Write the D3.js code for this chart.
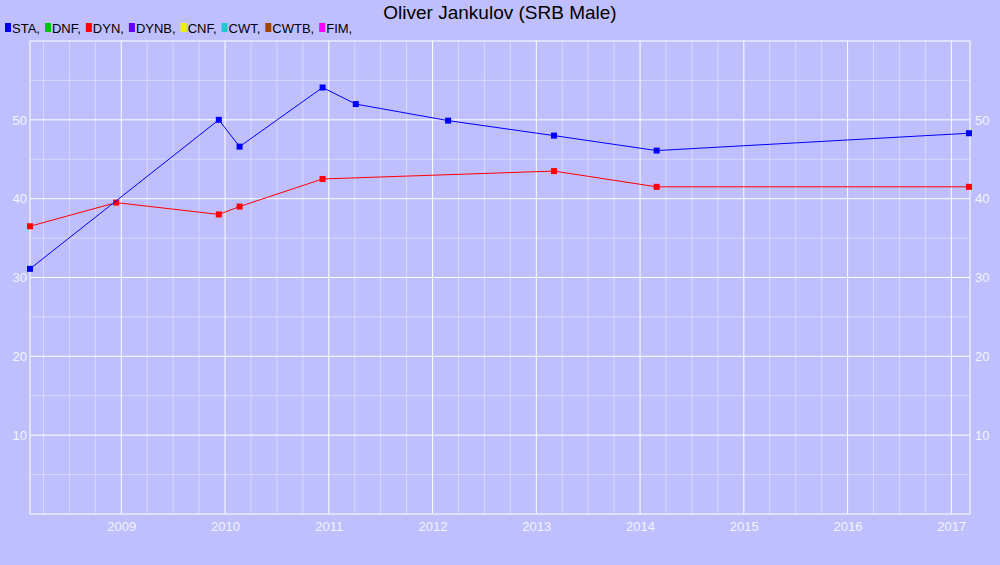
<!DOCTYPE html>
<html><head><meta charset="utf-8">
<script src="https://cdn.jsdelivr.net/npm/d3@7"></script>
<style>body{margin:0;background:#bfbffe}svg{font-family:"Liberation Sans",Arial,sans-serif}</style>
</head><body><svg id="c" width="1000" height="565"></svg>
<script>
const title = "Oliver Jankulov (SRB Male)";
const legendNames = ["STA","DNF","DYN","DYNB","CNF","CWT","CWTB","FIM"];
const legendColors = ["#0000ff","#00c800","#ff0000","#6400ff","#f0f000","#1ec8dc","#a04600","#ff00ff"];
const staX = [2008.12,2009.94,2010.14,2010.94,2011.26,2012.15,2013.17,2014.16,2017.17];
const staY = [31.1,50,46.6,54.1,52.0,49.9,48,46.1,48.3];
const dynX = [2008.12,2008.95,2009.94,2010.14,2010.94,2013.17,2014.16,2017.17];
const dynY = [36.5,39.5,38,39,42.5,43.5,41.5,41.5];
const yTicks = [10,20,30,40,50];
const xTicks = [2009,2010,2011,2012,2013,2014,2015,2016,2017];

const svg = d3.select("#c");
const L=30,R=970,T=41,B=514;
const x = d3.scaleLinear().domain([2008.12,2017.18]).range([L,R]);
const y = d3.scaleLinear().domain([0,60]).range([B,T]);
const g = svg.append("g");
for(let v=2008.25; v<2017.18; v+=0.25){ if(Math.abs(v-Math.round(v))>0.01) g.append("line").attr("x1",x(v)).attr("x2",x(v)).attr("y1",T).attr("y2",B).attr("stroke","#d8d8fa");}
for(let v=5; v<60; v+=10){ g.append("line").attr("x1",L).attr("x2",R).attr("y1",y(v)).attr("y2",y(v)).attr("stroke","#d8d8fa");}
xTicks.forEach(v=>g.append("line").attr("x1",x(v)).attr("x2",x(v)).attr("y1",T).attr("y2",B).attr("stroke","#fff"));
yTicks.concat([60]).forEach(v=>g.append("line").attr("x1",L).attr("x2",R).attr("y1",y(v)).attr("y2",y(v)).attr("stroke","#fff"));
[[L,L,T,B],[R,R,T,B],[L,R,B,B]].forEach(a=>g.append("line").attr("x1",a[0]).attr("x2",a[1]).attr("y1",a[2]).attr("y2",a[3]).attr("stroke","#fff"));
const ax = svg.append("g").attr("transform",`translate(0,${B})`).call(d3.axisBottom(x).tickValues(xTicks).tickFormat(d3.format("d")).tickSize(0).tickPadding(8));
const ayl = svg.append("g").attr("transform",`translate(${L},0)`).call(d3.axisLeft(y).tickValues(yTicks).tickSize(0).tickPadding(3));
const ayr = svg.append("g").attr("transform",`translate(${R},0)`).call(d3.axisRight(y).tickValues(yTicks).tickSize(0).tickPadding(5));
[ax,ayl,ayr].forEach(a=>{a.select(".domain").remove();a.selectAll("text").attr("fill","#f4f4ff").attr("font-size","13px").attr("font-family","Liberation Sans, Arial, sans-serif");});
function series(xs,ys,c){
  const pts = xs.map((v,i)=>[v,ys[i]]);
  svg.append("path").attr("d",d3.line().x(d=>x(d[0])).y(d=>y(d[1]))(pts)).attr("fill","none").attr("stroke",c).attr("stroke-width",1);
  svg.selectAll(null).data(pts).enter().append("rect").attr("x",d=>x(d[0])-3).attr("y",d=>y(d[1])-3).attr("width",6).attr("height",6).attr("fill",c);
}
series(dynX,dynY,"#ff0000");
series(staX,staY,"#0000ff");
svg.append("text").attr("x",500).attr("y",19).attr("text-anchor","middle").attr("font-size","19px").attr("fill","#000").text(title);
let lx=5;
legendNames.forEach((n,i)=>{
  svg.append("rect").attr("x",lx).attr("y",23).attr("width",6).attr("height",9).attr("fill",legendColors[i]);
  const t=svg.append("text").attr("x",lx+7).attr("y",33).attr("font-size","13px").attr("fill","#000").text(n+",");
  lx += t.node().getComputedTextLength()+12;
});
</script></body></html>
